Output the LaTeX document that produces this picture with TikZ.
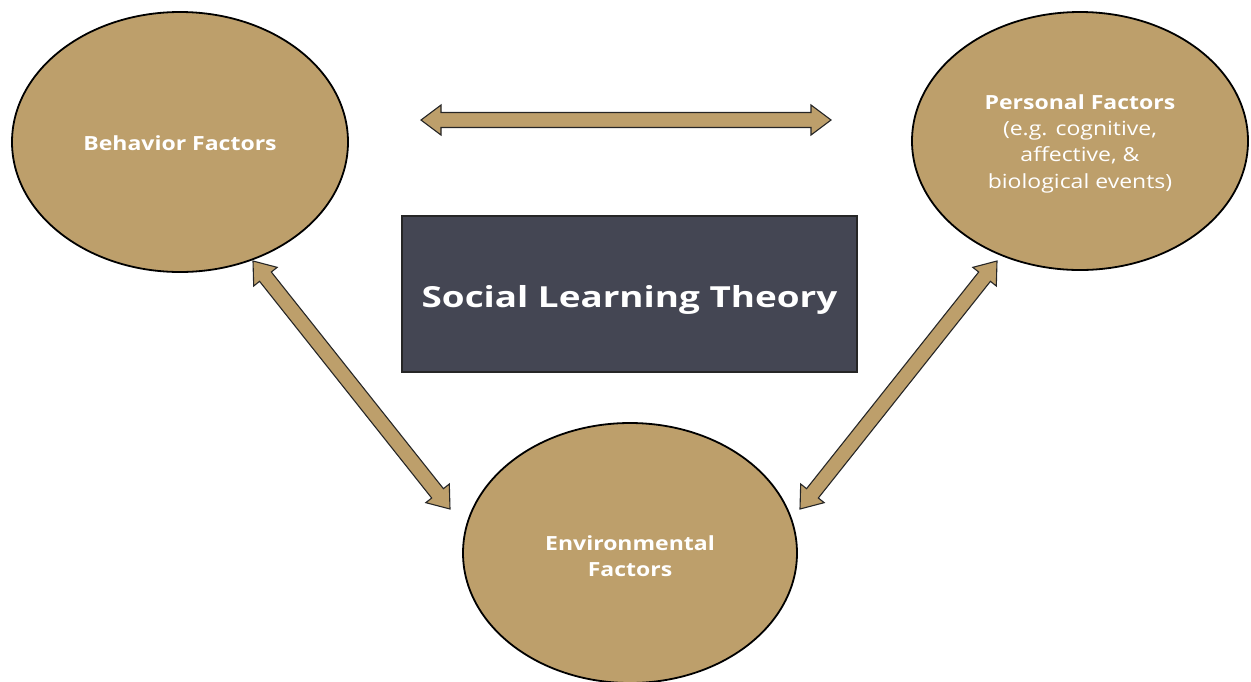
\documentclass[tikz,border=0pt]{standalone}
\usepackage{fontspec}
\setmainfont{Open Sans}
\newfontfamily\factorfont[FakeStretch=1.18]{Open Sans}
\newfontfamily\titlefont[FakeStretch=1.27]{Open Sans}
\usetikzlibrary{shapes.geometric,calc}
\definecolor{tan}{HTML}{BD9F6B}
\definecolor{slate}{HTML}{444653}
\tikzset{
  factor/.style={ellipse, draw=black, line width=1.8pt, fill=tan, inner sep=0pt},
  factortext/.style={inner sep=0pt, text=white, align=center,
    font=\factorfont\fontsize{19.5}{26.3}\selectfont},
  titlebox/.style={rectangle, draw=black!85, line width=1.5pt, fill=slate, inner sep=0pt,
    text=white, text height=28pt, text depth=1.2pt,
    font=\titlefont\fontsize{29}{34}\selectfont\bfseries},
  fatarrow/.style={draw=black!85, line width=1.1pt, fill=tan, line join=miter}
}
\newcommand\fatarrow[3]{% start, end, prefix
  \coordinate (#3a) at ($(#1)!20pt!(#2)$);
  \coordinate (#3b) at ($(#2)!20pt!(#1)$);
  \draw[fatarrow] (#1) -- ($(#3a)!15pt!90:(#2)$) -- ($(#3a)!7.5pt!90:(#2)$)
     -- ($(#3b)!7.5pt!-90:(#1)$) -- ($(#3b)!15pt!-90:(#1)$) -- (#2)
     -- ($(#3b)!15pt!90:(#1)$) -- ($(#3b)!7.5pt!90:(#1)$)
     -- ($(#3a)!7.5pt!-90:(#2)$) -- ($(#3a)!15pt!-90:(#2)$) -- cycle;
}
\begin{document}
\begin{tikzpicture}[x=1pt,y=-1pt]
\useasboundingbox (0,0) rectangle (1251,681);
\clip (0,0) rectangle (1251,681);
\node[factor, minimum width=336pt, minimum height=260pt] (beh) at (180,142) {};
\node[factortext] (behtext) at (180,143) {\bfseries Behavior Factors};
\node[factor, minimum width=336pt, minimum height=258pt] (per) at (1080,141) {};
\node[factortext] (pertext) at (1080,143.5) {\textbf{Personal Factors}\\(e.g. cognitive,\\affective, \&\\biological events)};
\node[factor, minimum width=334pt, minimum height=260pt] (env) at (630,553) {};
\node[factortext] (envtext) at (630,556) {\bfseries Environmental\\\bfseries Factors};
\node[titlebox, minimum width=455pt, minimum height=156pt] (slt) at (629.5,294) {Social Learning Theory};
\coordinate (h1) at (421,120);
\coordinate (h2) at (831,120);
\coordinate (l1) at (253,261);
\coordinate (l2) at (450,509);
\coordinate (r1) at (997,261);
\coordinate (r2) at (800,509);
\fatarrow{h1}{h2}{ha}
\fatarrow{l1}{l2}{la}
\fatarrow{r1}{r2}{ra}
\end{tikzpicture}
\end{document}
